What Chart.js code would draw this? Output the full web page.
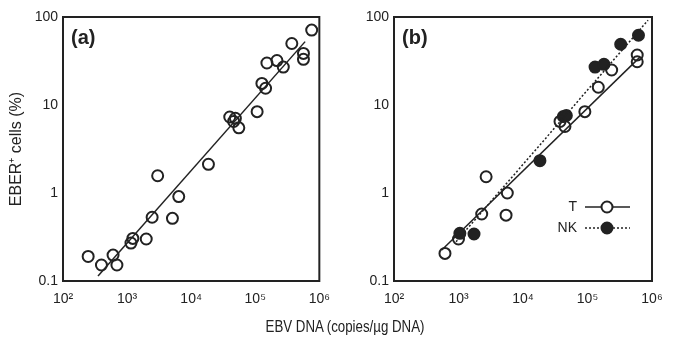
<!DOCTYPE html>
<html>
<head>
<meta charset="utf-8">
<script src="https://cdn.jsdelivr.net/npm/chart.js@4.4.1/dist/chart.umd.min.js"></script>
<style>
    html, body { margin: 0; padding: 0; background: #fff; }
    #wrap { position: relative; width: 677px; height: 338px; overflow: hidden; }
    #xTitle {
        position: absolute; left: 225px; width: 240px; top: 318px;
        text-align: center; line-height: 16px; color: #222;
        font: 16px "Liberation Sans", Arial, sans-serif;
        transform: scaleX(0.83);
        transform-origin: 120px 0;
    }
</style>
</head>
<body>
<div id="wrap">
    <canvas id="chartA" width="340" height="338" style="position:absolute;left:0;top:0"></canvas>
    <canvas id="chartB" width="337" height="338" style="position:absolute;left:340px;top:0"></canvas>
    <div id="xTitle">EBV DNA (copies/µg DNA)</div>
</div>
<script>
// Axis ticks
const xTicks = [1e2, 1e3, 1e4, 1e5, 1e6];
const xTickLabels = ['10²', '10³', '10⁴', '10⁵', '10⁶'];
const yTicks = [0.1, 1, 10, 100];
const yTickLabels = ['0.1', '1', '10', '100'];

// Panel (a): all cases
const dnaA = [247, 398, 604, 694, 1150, 1230, 1990, 2460, 3000, 5100, 6400, 18600,
    40000, 46000, 49000, 55400, 107000, 127000, 145000, 152000, 218000, 274000,
    372000, 565000, 565000, 760000];
const eberA = [0.19, 0.152, 0.197, 0.152, 0.27, 0.305, 0.30, 0.53, 1.57, 0.515, 0.91, 2.12,
    7.3, 6.5, 7.06, 5.5, 8.4, 17.6, 15.5, 30, 32, 27,
    50, 33, 38.6, 71];
const fitDnaA = [352, 600000];
const fitEberA = [0.114, 52.5];

// Panel (b): T and NK
const dnaT = [617, 1000, 2290, 2680, 5460, 5710, 37500, 44700, 91000, 147000, 237000, 590000, 590000];
const eberT = [0.206, 0.30, 0.577, 1.53, 0.56, 1.0, 6.5, 5.7, 8.4, 15.9, 25, 37, 31];
const dnaNK = [1050, 1740, 18300, 42200, 47000, 131000, 180000, 327000, 617000];
const eberNK = [0.348, 0.342, 2.33, 7.4, 7.6, 27, 29, 49, 62];
const fitDnaT = [550, 650000];
const fitEberT = [0.225, 35];
const fitDnaNK = [916, 870000];
const fitEberNK = [0.28, 92];

const INK = '#222';
const FONT = '"Liberation Sans", Arial, sans-serif';

const toPoints = (xs, ys) => xs.map((x, i) => ({ x, y: ys[i] }));

// Frame around the plot area plus the panel letter
const framePlugin = {
    id: 'frame',
    afterDraw(chart, args, opts) {
        const { ctx, chartArea: a } = chart;
        ctx.save();
        ctx.strokeStyle = INK;
        ctx.lineWidth = 2;
        ctx.strokeRect(a.left, a.top, a.right - a.left, a.bottom - a.top);
        ctx.fillStyle = INK;
        ctx.font = 'bold 20px ' + FONT;
        ctx.textBaseline = 'middle';
        ctx.fillText(opts.label, a.left + 8, a.top + 21);
        ctx.restore();
    }
};

// Little key drawn inside panel (b)
const keyPlugin = {
    id: 'key',
    afterDraw(chart, args, opts) {
        if (!opts.rows) return;
        const { ctx } = chart;
        ctx.save();
        ctx.font = '14px ' + FONT;
        ctx.textAlign = 'right';
        ctx.textBaseline = 'middle';
        opts.rows.forEach(row => {
            ctx.fillStyle = INK;
            ctx.fillText(row.text, 237, row.y);
            ctx.strokeStyle = INK;
            ctx.lineWidth = 1.5;
            ctx.setLineDash(row.dash);
            ctx.beginPath();
            ctx.moveTo(245, row.y);
            ctx.lineTo(290, row.y);
            ctx.stroke();
            ctx.setLineDash([]);
            ctx.beginPath();
            ctx.arc(267, row.y, 5.5, 0, Math.PI * 2);
            ctx.fillStyle = row.fill;
            ctx.fill();
            ctx.lineWidth = 2;
            ctx.stroke();
        });
        ctx.restore();
    }
};

function buildScales(yWidth, showTitle) {
    return {
        x: {
            type: 'logarithmic',
            min: 1e2,
            max: 1e6,
            grid: { display: false, drawTicks: false },
            border: { display: false },
            afterBuildTicks: s => { s.ticks = xTicks.map(v => ({ value: v })); },
            afterFit: s => { s.height = 57; },
            ticks: {
                color: INK,
                font: { family: FONT, size: 14 },
                padding: 10,
                maxRotation: 0,
                autoSkip: false,
                callback: v => xTickLabels[xTicks.indexOf(v)]
            }
        },
        y: {
            type: 'logarithmic',
            min: 0.1,
            max: 100,
            grid: { display: false, drawTicks: false },
            border: { display: false },
            afterBuildTicks: s => { s.ticks = yTicks.map(v => ({ value: v })); },
            afterFit: s => { s.width = yWidth; },
            ticks: {
                color: INK,
                font: { family: FONT, size: 14 },
                padding: 5,
                autoSkip: false,
                callback: v => yTickLabels[yTicks.indexOf(v)]
            },
            title: {
                display: showTitle,
                text: 'EBER⁺ cells (%)',
                color: INK,
                font: { family: FONT, size: 16 },
                padding: { top: 7, bottom: 0 }
            }
        }
    };
}

function openSet(data) {
    return {
        data,
        pointRadius: 5.5,
        pointBorderWidth: 2,
        pointBorderColor: INK,
        pointBackgroundColor: 'rgba(0,0,0,0)',
        showLine: false
    };
}

function fitLine(data, dash) {
    return {
        data,
        showLine: true,
        borderColor: INK,
        borderWidth: 1.5,
        borderDash: dash,
        pointRadius: 0
    };
}

function createChart(id, datasets, layoutPadding, yWidth, showTitle, pluginOpts) {
    const canvas = document.getElementById(id);
    return new Chart(canvas.getContext('2d'), {
        type: 'scatter',
        data: { datasets },
        options: {
            responsive: false,
            devicePixelRatio: 1,
            animation: false,
            layout: { padding: layoutPadding },
            scales: buildScales(yWidth, showTitle),
            plugins: {
                legend: { display: false },
                tooltip: { enabled: false },
                frame: pluginOpts.frame,
                key: pluginOpts.key || {}
            }
        },
        plugins: [framePlugin, keyPlugin]
    });
}

createChart('chartA', [
    fitLine(toPoints(fitDnaA, fitEberA), []),
    openSet(toPoints(dnaA, eberA))
], { top: 17, right: 19, left: 0, bottom: 0 }, 63, true, {
    frame: { label: '(a)' }
});

createChart('chartB', [
    fitLine(toPoints(fitDnaT, fitEberT), []),
    fitLine(toPoints(fitDnaNK, fitEberNK), [2, 2]),
    openSet(toPoints(dnaT, eberT)),
    Object.assign(openSet(toPoints(dnaNK, eberNK)), { pointBackgroundColor: INK })
], { top: 17, right: 25, left: 0, bottom: 0 }, 54, false, {
    frame: { label: '(b)' },
    key: {
        rows: [
            { text: 'T', y: 207, dash: [], fill: '#fff' },
            { text: 'NK', y: 228, dash: [2, 2], fill: INK }
        ]
    }
});
</script>
</body>
</html>
